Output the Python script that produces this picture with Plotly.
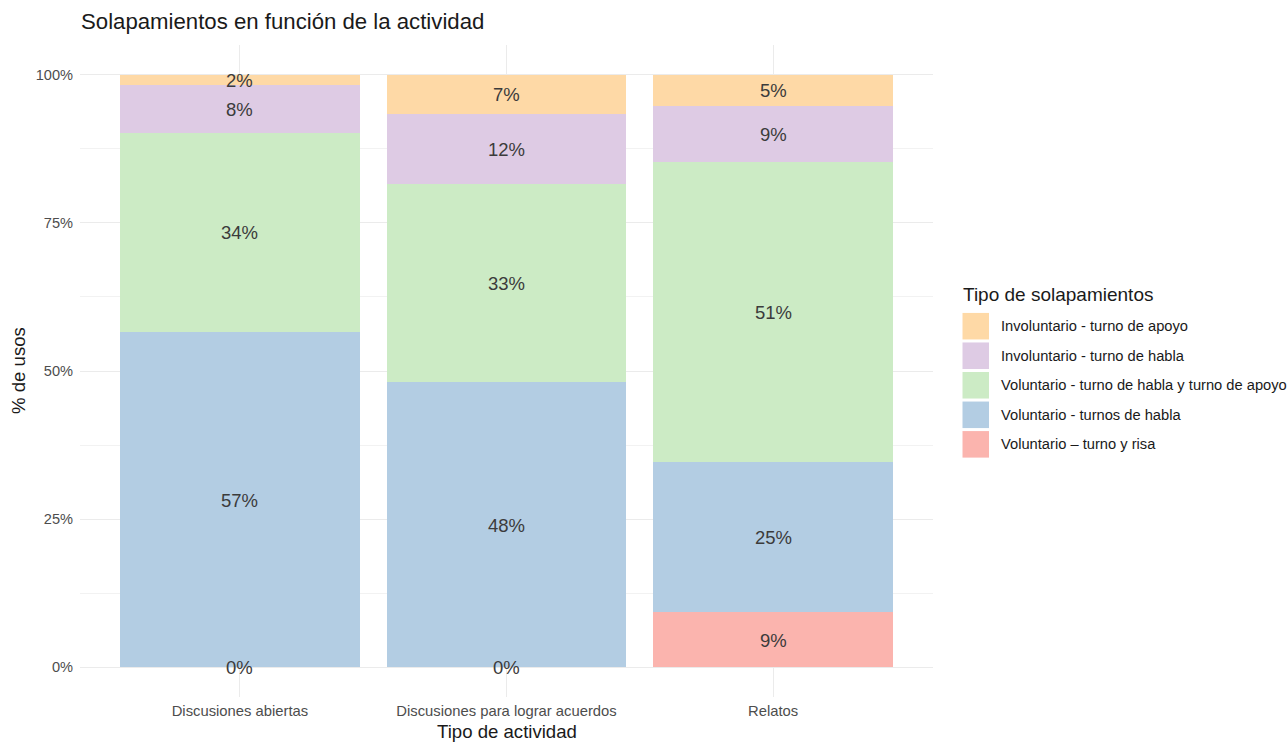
import plotly.graph_objects as go

# Activity types (x axis)
actividades = ["Discusiones abiertas", "Discusiones para lograr acuerdos", "Relatos"]

# Share of each overlap type per activity (%), stacked bottom -> top
risa = [0.0, 0.0, 9.4]            # Voluntario – turno y risa
turnos_habla = [56.6, 48.2, 25.3]  # Voluntario - turnos de habla
habla_apoyo = [33.6, 33.4, 50.6]   # Voluntario - turno de habla y turno de apoyo
inv_habla = [8.1, 11.8, 9.4]       # Involuntario - turno de habla
inv_apoyo = [1.7, 6.6, 5.3]        # Involuntario - turno de apoyo

series = [
    ("Voluntario – turno y risa", risa, "#FBB4AE"),
    ("Voluntario - turnos de habla", turnos_habla, "#B3CDE3"),
    ("Voluntario - turno de habla y turno de apoyo", habla_apoyo, "#CCEBC5"),
    ("Involuntario - turno de habla", inv_habla, "#DECBE4"),
    ("Involuntario - turno de apoyo", inv_apoyo, "#FED9A6"),
]

y_ticks = [0, 25, 50, 75, 100]
y_tick_text = ["0%", "25%", "50%", "75%", "100%"]

FONT = "Liberation Sans, Arial, sans-serif"
W, H = 1288, 742
ML, MR, MT, MB = 80, 355, 45.4, 45.4
PW, PH = W - ML - MR, H - MT - MB


def px_x(x):
    return (x - ML) / PW


def px_y(y):
    return (H - MB - y) / PH


fig = go.Figure()

# stacked bars
for name, vals, color in series:
    fig.add_trace(go.Bar(
        x=actividades, y=vals, name=name, width=0.9,
        marker=dict(color=color, line=dict(width=0)),
        showlegend=False, hoverinfo="skip",
    ))

annotations = []

# percentage labels at the middle of each segment
base = [0.0] * len(actividades)
for name, vals, color in series:
    for i, v in enumerate(vals):
        annotations.append(dict(
            x=actividades[i], y=base[i] + v / 2, xref="x", yref="y",
            text=f"{v:.0f}%", showarrow=False, yshift=-0.5,
            xanchor="center", yanchor="middle",
            font=dict(family=FONT, size=18.5, color="#3b3b3b"),
        ))
        base[i] += v

fig.update_layout(
    width=W, height=H,
    margin=dict(l=ML, r=MR, t=MT, b=MB, autoexpand=False),
    barmode="stack", bargap=0,
    plot_bgcolor="white", paper_bgcolor="white",
    font=dict(family=FONT, color="#4d4d4d"),
    xaxis=dict(
        range=[-0.6, 2.6], showgrid=True, gridcolor="#ebebeb", gridwidth=1.1,
        zeroline=False, showline=False, ticks="",
        tickfont=dict(family=FONT, size=14.8, color="#4d4d4d"),
        ticklabelstandoff=3,
    ),
    yaxis=dict(
        range=[-5, 105], tickvals=y_ticks, ticktext=y_tick_text,
        showgrid=True, gridcolor="#ebebeb", gridwidth=1.1,
        zeroline=False, showline=False, ticks="",
        tickfont=dict(family=FONT, size=14.6, color="#4d4d4d"),
        ticklabelstandoff=6,
        minor=dict(tick0=12.5, dtick=25, showgrid=True,
                   gridcolor="#f2f2f2", gridwidth=0.6),
    ),
)

annotations += [
    dict(text="Solapamientos en función de la actividad", xref="paper", yref="paper",
         x=px_x(79), y=px_y(22), xanchor="left", yanchor="middle", showarrow=False,
         font=dict(family=FONT, size=22.2, color="#1a1a1a")),
    dict(text="Tipo de actividad", xref="paper", yref="paper",
         x=0.5, y=px_y(731), xanchor="center", yanchor="middle", showarrow=False,
         font=dict(family=FONT, size=18.6, color="#1a1a1a")),
    dict(text="% de usos", xref="paper", yref="paper", textangle=-90,
         x=px_x(18), y=0.5, xanchor="center", yanchor="middle", showarrow=False,
         font=dict(family=FONT, size=18.6, color="#1a1a1a")),
    dict(text="Tipo de solapamientos", xref="paper", yref="paper",
         x=px_x(961), y=px_y(295), xanchor="left", yanchor="middle", showarrow=False,
         font=dict(family=FONT, size=19, color="#1a1a1a")),
]

# legend: top entry is the top of the stack
shapes = []
for k, (name, vals, color) in enumerate(reversed(series)):
    top = 313 + k * 29.5
    bot = top + 26.5
    shapes.append(dict(type="rect", xref="paper", yref="paper",
                       x0=px_x(962.5), x1=px_x(989), y0=px_y(bot), y1=px_y(top),
                       fillcolor=color, line=dict(width=0), layer="above"))
    annotations.append(dict(text=name, xref="paper", yref="paper",
                            x=px_x(999), y=px_y((top + bot) / 2),
                            xanchor="left", yanchor="middle", showarrow=False,
                            font=dict(family=FONT, size=14.7, color="#1a1a1a")))

fig.update_layout(annotations=annotations, shapes=shapes)

fig.write_html("out.html")
